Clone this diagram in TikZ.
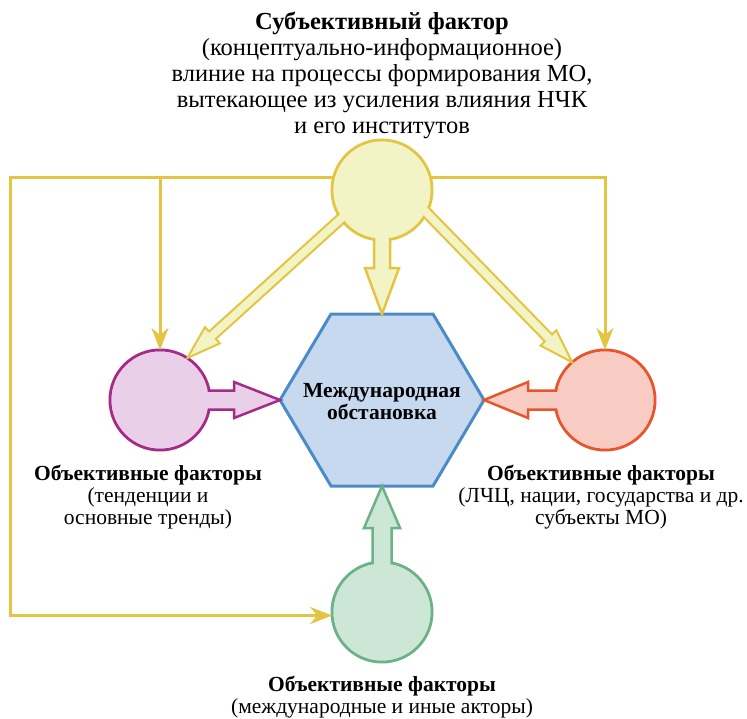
\documentclass[tikz,border=0pt]{standalone}
\usepackage{fontspec}
\setmainfont{Liberation Serif}
\usetikzlibrary{arrows.meta,calc}

\definecolor{ylwline}{HTML}{E3C443}
\definecolor{ylwfill}{HTML}{F3F4C5}
\definecolor{purline}{HTML}{A52A8A}
\definecolor{purfill}{HTML}{E9CFE7}
\definecolor{redline}{HTML}{E8552D}
\definecolor{redfill}{HTML}{F8CBC3}
\definecolor{grnline}{HTML}{6BB287}
\definecolor{grnfill}{HTML}{CDE7D7}
\definecolor{bluline}{HTML}{4B8BC7}
\definecolor{blufill}{HTML}{C6D9EF}

% hollow block arrow: style, from, to, half shaft, half head, head length
\newcommand{\fatarrow}[6]{%
  \coordinate (fa-h) at ($(#3)!#6!(#2)$);
  \draw[#1] ($(#2)!#4!90:(#3)$) -- ($(fa-h)!#4!90:(#3)$) -- ($(fa-h)!#5!90:(#3)$)
    -- (#3) -- ($(fa-h)!#5!-90:(#3)$) -- ($(fa-h)!#4!-90:(#3)$)
    -- ($(#2)!#4!-90:(#3)$) -- cycle;}

\begin{document}
\begin{tikzpicture}[x=1pt,y=-1pt,>={Stealth[length=22pt,width=17pt,inset=7pt]},
  fact/.style 2 args={circle, draw=#1, fill=#2, line width=3pt, minimum size=100pt, inner sep=0pt, outer sep=0pt},
  hexa/.style={draw=bluline, fill=blufill, line width=3pt, line join=miter},
  fat/.style 2 args={draw=#1, fill=#2, line width=2.5pt, line join=miter},
  feed/.style={->, draw=ylwline, line width=3pt},
  lbl/.style={align=center, font=\fontsize{21.5}{22}\selectfont, inner sep=0pt}]
  \useasboundingbox (0,0) rectangle (747,718);

  % circles
  \node[fact={ylwline}{ylwfill}] (subj) at (382,190) {};
  \node[fact={purline}{purfill}] (tend) at (160,400) {};
  \node[fact={redline}{redfill}] (lchc) at (605,400) {};
  \node[fact={grnline}{grnfill}] (akt) at (382,612) {};

  % the hexagon
  \coordinate (hx) at (382,400);
  \coordinate (hx-w) at ($(hx)+(-102,0)$);
  \coordinate (hx-e) at ($(hx)+(102,0)$);
  \coordinate (hx-n) at ($(hx)+(0,-86)$);
  \coordinate (hx-s) at ($(hx)+(0,86)$);
  \draw[hexa] (hx-w) -- ($(hx-n)+(-51,0)$) -- ($(hx-n)+(51,0)$) -- (hx-e)
    -- ($(hx-s)+(51,0)$) -- ($(hx-s)+(-51,0)$) -- cycle;
  \node[align=center, font=\bfseries\fontsize{21.5}{22}\selectfont] (mo) at ($(hx)+(0,2)$) {Международная\\обстановка};

  % block arrows
  \coordinate (subj-l) at ($(tend.57)!1.08!(subj.215)$);
  \coordinate (subj-r) at ($(lchc.131)!1.08!(subj.333)$);
  \fatarrow{fat={ylwline}{ylwfill}}{subj.center}{hx-n}{8pt}{17pt}{46pt}
  \fatarrow{fat={ylwline}{ylwfill}, line width=2pt}{subj-l}{tend.57}{5pt}{11pt}{34pt}
  \fatarrow{fat={ylwline}{ylwfill}, line width=2pt}{subj-r}{lchc.131}{5pt}{11pt}{34pt}
  \fatarrow{fat={purline}{purfill}}{tend.center}{hx-w}{9.5pt}{18pt}{46pt}
  \fatarrow{fat={redline}{redfill}}{lchc.center}{hx-e}{9.5pt}{18pt}{44pt}
  \fatarrow{fat={grnline}{grnfill}}{akt.center}{hx-s}{9.5pt}{18pt}{42pt}

  % close the circles over the shafts
  \fill[ylwfill] (subj) circle[radius=48.5pt];
  \fill[purfill] (tend) circle[radius=48.5pt];
  \fill[redfill] (lchc) circle[radius=48.5pt];
  \fill[grnfill] (akt) circle[radius=48.5pt];

  % thin feedback lines
  \coordinate (rim) at (10,400);
  \draw[feed] (subj.165) -| (rim) |- (akt.184);
  \draw[feed] (tend.north |- subj.165) -- (tend.north);
  \draw[feed] (subj.15) -| (lchc.north);

  % labels
  \node[lbl, font=\fontsize{24.5}{26}\selectfont] (lbl-subj) at (382,75)
    {\textbf{Субъективный фактор}\\(концептуально-информационное)\\влиние на процессы формирования МО,\\вытекающее из усиления влияния НЧК\\и его институтов};
  \node[lbl] (lbl-tend) at (148,497) {\textbf{Объективные факторы}\\(тенденции и\\основные тренды)};
  \node[lbl] (lbl-lchc) at (601,497) {\textbf{Объективные факторы}\\(ЛЧЦ, нации, государства и др.\\субъекты МО)};
  \node[lbl] (lbl-akt) at (382,697) {\textbf{Объективные факторы}\\(международные и иные акторы)};
\end{tikzpicture}
\end{document}
